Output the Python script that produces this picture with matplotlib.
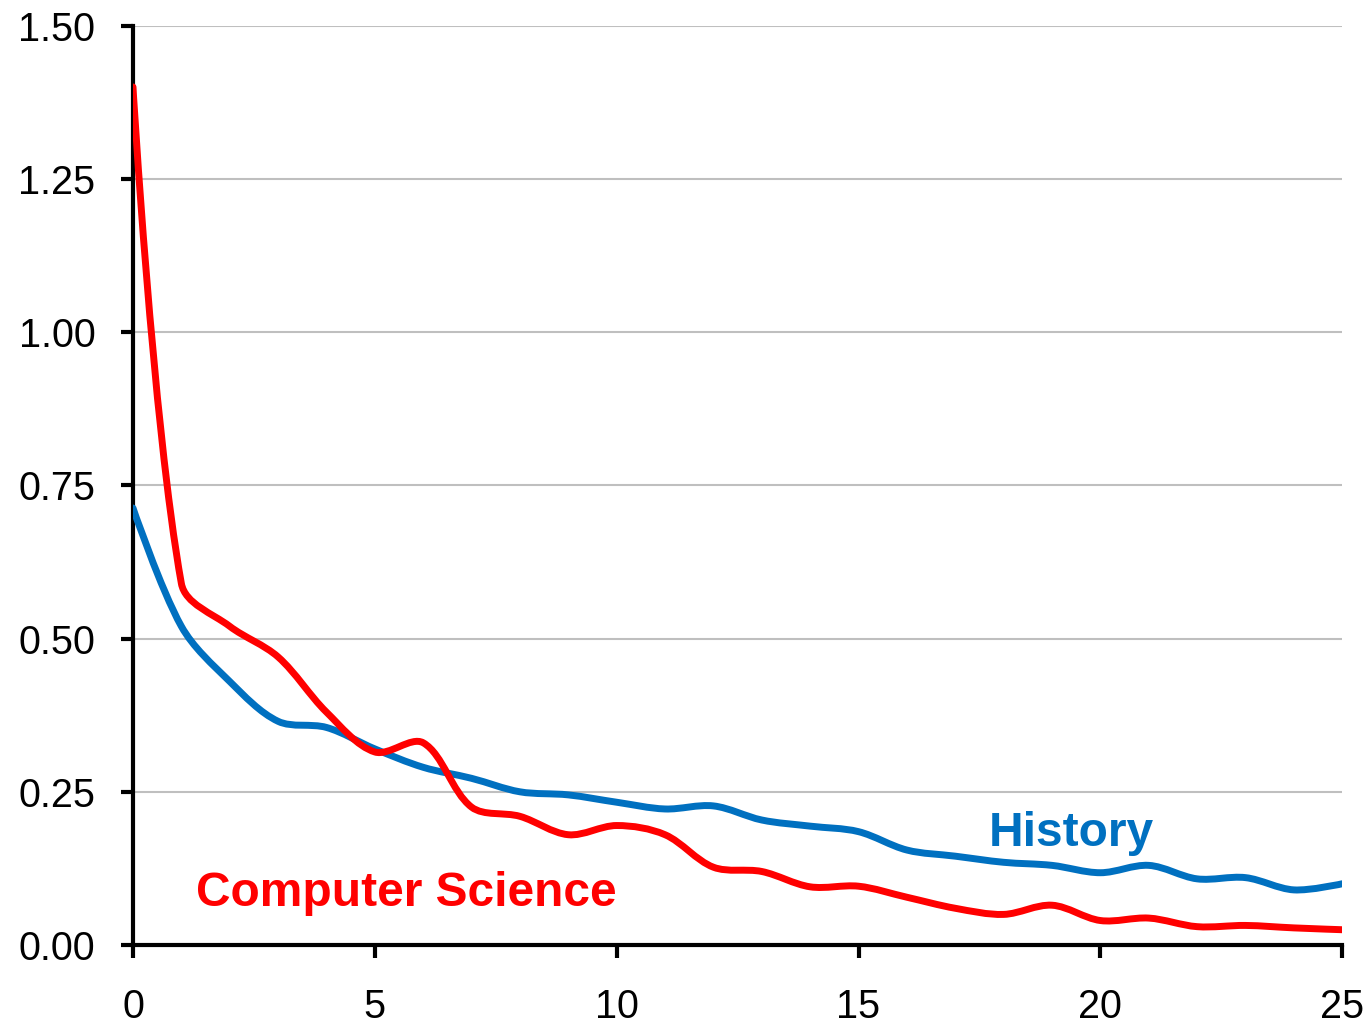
import matplotlib
matplotlib.use("Agg")
import matplotlib.pyplot as plt
from matplotlib.path import Path
from matplotlib.patches import PathPatch
import numpy as np

plt.rcParams['font.family'] = ['Liberation Sans', 'DejaVu Sans']

years = list(range(26))
comp_sci = [1.40, 0.59, 0.52, 0.47, 0.38, 0.315, 0.33, 0.225, 0.21, 0.18, 0.195, 0.18,
            0.127, 0.12, 0.095, 0.096, 0.078, 0.06, 0.05, 0.065, 0.04, 0.044, 0.03,
            0.032, 0.028, 0.025]
history = [0.713, 0.52, 0.43, 0.365, 0.355, 0.32, 0.29, 0.272, 0.25, 0.245, 0.233, 0.222,
           0.227, 0.204, 0.194, 0.185, 0.155, 0.145, 0.135, 0.13, 0.118, 0.13, 0.108,
           0.11, 0.09, 0.10]
yticks = [0.0, 0.25, 0.5, 0.75, 1.0, 1.25, 1.5]
xticks = [0, 5, 10, 15, 20, 25]

YSCALE = 12.7  # y unit vs x unit on screen, used for segment lengths


def smooth_path(x, y):
    # smoothed line like excel: bezier handles weighted by segment lengths
    pts = np.column_stack([x, y]).astype(float)
    n = len(pts)
    seg = np.hypot(np.diff(pts[:, 0]), np.diff(pts[:, 1]) * YSCALE)
    h_out = [np.zeros(2)] * n
    h_in = [np.zeros(2)] * n
    for i in range(1, n - 1):
        t = pts[i + 1] - pts[i - 1]
        a, b = seg[i - 1], seg[i]
        h_in[i] = t * a / (a + b) / 3.0
        h_out[i] = t * b / (a + b) / 3.0
    verts = [pts[0]]
    codes = [Path.MOVETO]
    for i in range(n - 1):
        verts += [pts[i] + h_out[i], pts[i + 1] - h_in[i + 1], pts[i + 1]]
        codes += [Path.CURVE4] * 3
    return Path(verts, codes)


fig = plt.figure(figsize=(13.71, 10.25), dpi=100)
ax = fig.add_axes([0.097, 0.078, 0.882, 0.897])

for vals, col in [(history, '#0070C0'), (comp_sci, '#FF0000')]:
    ax.add_patch(PathPatch(smooth_path(years, vals), fill=False, edgecolor=col,
                           lw=5, capstyle='round', joinstyle='round', zorder=3))

ax.set_xlim(0, 25)
ax.set_ylim(0, 1.5)
ax.set_xticks(xticks)
ax.set_yticks(yticks)
ax.set_yticklabels(['%.2f' % v for v in yticks])
ax.yaxis.grid(True, color='#BFBFBF', lw=1.5)
ax.set_axisbelow(True)

for s in ['top', 'right']:
    ax.spines[s].set_visible(False)
for s in ['left', 'bottom']:
    ax.spines[s].set_linewidth(3)
ax.tick_params(axis='both', direction='out', length=9, width=3, labelsize=28.5)
ax.tick_params(axis='y', pad=18)
ax.tick_params(axis='x', pad=22)

ax.text(1.3, 0.084, 'Computer Science', color='#FF0000', fontsize=34.5,
        fontweight='bold', va='center', ha='left')
ax.text(17.7, 0.182, 'History', color='#0070C0', fontsize=34.5,
        fontweight='bold', va='center', ha='left')

fig.savefig('out.png', dpi=100)
